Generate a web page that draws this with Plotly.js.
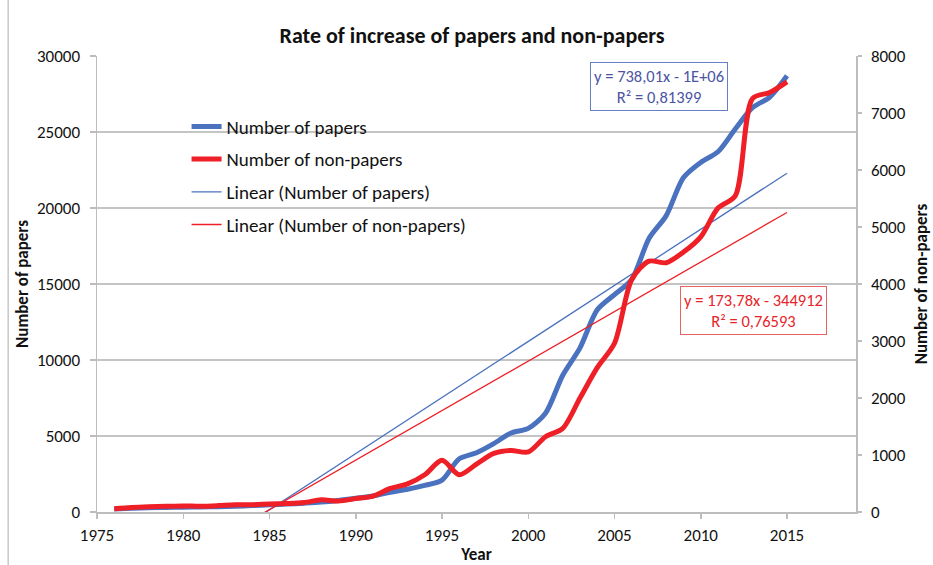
<!DOCTYPE html>
<html>
<head>
<meta charset="utf-8">
<script src="https://cdn.plot.ly/plotly-3.0.1.min.js"></script>
<style>html,body{margin:0;padding:0;background:#fff;}#chart{width:933px;height:565px;}</style>
</head>
<body>
<div id="chart"></div>
<script>
const years = [1976,1977,1978,1979,1980,1981,1982,1983,1984,1985,1986,1987,1988,1989,1990,1991,1992,1993,1994,1995,1996,1997,1998,1999,2000,2001,2002,2003,2004,2005,2006,2007,2008,2009,2010,2011,2012,2013,2014,2015];
const papers = [200,250,280,300,320,330,350,380,420,480,520,580,650,760,900,1050,1300,1500,1750,2100,3500,3900,4500,5200,5500,6500,9000,10800,13300,14300,15300,18000,19500,22000,23000,23700,25200,26600,27300,28700];
const nonPapers = [59,80,93,101,107,101,112,128,128,141,149,165,213,192,235,280,413,493,653,907,653,840,1027,1080,1053,1320,1467,2000,2533,2960,4080,4400,4373,4560,4827,5333,5547,7253,7360,7547];
// trend line coefficients as labelled on the chart (y = slope*x + intercept)
const trendPapers = {slope: 738.01, intercept: -1464800};
const trendNonPapers = {slope: 173.78, intercept: -344912};
const eqPapers = "y = 738,01x - 1E+06<br>R² = 0,81399";
const eqNonPapers = "y = 173,78x - 344912<br>R² = 0,76593";

const BLUE = '#4a72bf', RED = '#ee1f26';
const FONT = 'Carlito, Lato, sans-serif';
const tx = [years[0], years[years.length-1]];

const traces = [
  {x: years, y: papers, name: 'Number of papers', type: 'scatter', mode: 'lines',
   line: {color: BLUE, width: 5, shape: 'spline', smoothing: 0.8}, legendgroup: 'a'},
  {x: years, y: nonPapers, name: 'Number of non-papers', type: 'scatter', mode: 'lines', yaxis: 'y2',
   line: {color: RED, width: 5, shape: 'spline', smoothing: 0.8}, legendgroup: 'b'},
  {x: tx, y: tx.map(v => trendPapers.slope*v + trendPapers.intercept), name: 'Linear (Number of papers)',
   type: 'scatter', mode: 'lines', line: {color: BLUE, width: 1.3}, legendgroup: 'c'},
  {x: tx, y: tx.map(v => trendNonPapers.slope*v + trendNonPapers.intercept), name: 'Linear (Number of non-papers)',
   type: 'scatter', mode: 'lines', yaxis: 'y2', line: {color: RED, width: 1.3}, legendgroup: 'd'}
];

const axisCommon = {showline: true, linecolor: '#bdbdbd', linewidth: 1.5, ticks: 'outside', tickcolor: '#bdbdbd',
  tickwidth: 1.5, zeroline: false, tickfont: {family: FONT, size: 17, color: '#111'}};
const titleFont = {family: FONT, size: 17, color: '#111'};

const layout = {
  width: 933, height: 565,
  margin: {l: 97, r: 77, t: 56, b: 53},
  paper_bgcolor: '#fff', plot_bgcolor: '#fff',
  font: {family: FONT, color: '#111'},
  title: {text: '<b>Rate of increase of papers and non-papers</b>', font: {family: FONT, size: 22, color: '#111'},
    x: 0.506, xanchor: 'center', y: 0.938, yanchor: 'middle'},
  xaxis: Object.assign({}, axisCommon, {range: [1975, 2019], tick0: 1975, dtick: 5, ticklen: 5, showgrid: false,
    ticklabelstandoff: 2,
    title: {text: '<b>Year</b>', font: titleFont, standoff: 6}}),
  yaxis: Object.assign({}, axisCommon, {range: [0, 30000], dtick: 5000, ticklen: 6, showgrid: true, tickformat: 'd',
    gridcolor: '#c4c4c4', gridwidth: 1.5, ticklabelstandoff: 6,
    title: {text: '<b>Number of papers</b>', font: titleFont, standoff: 4}}),
  yaxis2: Object.assign({}, axisCommon, {range: [0, 8000], dtick: 1000, ticklen: 4, overlaying: 'y', side: 'right',
    showgrid: false, tickformat: 'd', ticklabelstandoff: 6,
    title: {text: '<b>Number of non-papers</b>', font: titleFont, standoff: 10}}),
  showlegend: true,
  legend: {x: 0.118, y: 0.887, xanchor: 'left', yanchor: 'top', bgcolor: 'rgba(0,0,0,0)',
    font: {family: FONT, size: 19, color: '#111'}, traceorder: 'grouped', tracegroupgap: 5, itemwidth: 30},
  annotations: [
    {xref: 'paper', yref: 'paper', x: 0.741, y: 0.934, xanchor: 'center', yanchor: 'middle', text: eqPapers, showarrow: false,
     font: {family: FONT, size: 16.5, color: '#4b55a3'}, bordercolor: '#6680c8', borderwidth: 1, borderpad: 3,
     bgcolor: '#fff', align: 'center'},
    {xref: 'paper', yref: 'paper', x: 0.865, y: 0.441, xanchor: 'center', yanchor: 'middle', text: eqNonPapers, showarrow: false,
     font: {family: FONT, size: 16.5, color: '#e8232a'}, bordercolor: '#e86262', borderwidth: 1, borderpad: 3,
     bgcolor: '#fff', align: 'center'}
  ],
  shapes: [
    {type: 'line', xref: 'paper', yref: 'paper', x0: -0.117, x1: -0.117, y0: -0.12, y1: 1.13,
     line: {color: '#c8c8c8', width: 1.5}}
  ]
};

Plotly.newPlot('chart', traces, layout, {displayModeBar: false, staticPlot: true});
</script>
</body>
</html>
